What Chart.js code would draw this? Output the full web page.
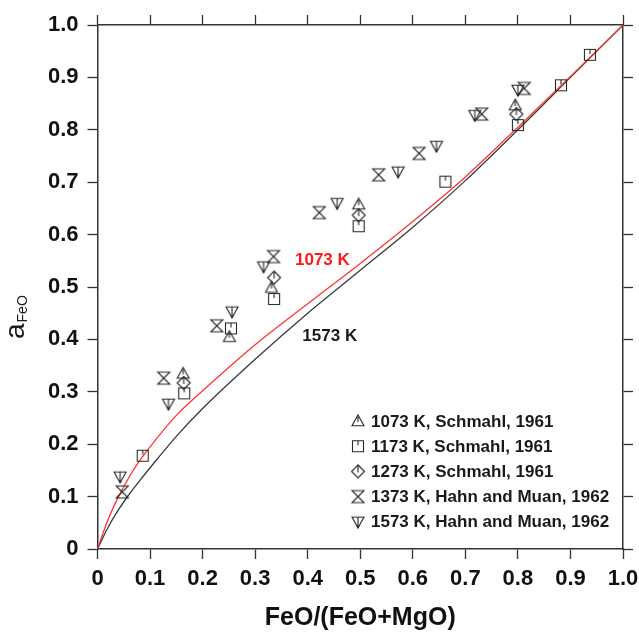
<!DOCTYPE html>
<html>
<head>
<meta charset="utf-8">
<script src="https://cdn.jsdelivr.net/npm/chart.js@4.4.0/dist/chart.umd.min.js"></script>
<style>
  html, body { margin: 0; padding: 0; background: #fff; }
</style>
</head>
<body>
<canvas id="chart" width="639" height="633"></canvas>
<script>
// axis ticks
const tickValues = [0, 0.1, 0.2, 0.3, 0.4, 0.5, 0.6, 0.7, 0.8, 0.9, 1.0];

// model curves
const curve1073X = [0, 0.02, 0.04, 0.06, 0.08, 0.1, 0.15, 0.2, 0.3, 0.4, 0.5, 0.6, 0.7, 0.8, 0.9, 1.0];
const curve1073Y = [0, 0.056, 0.1, 0.137, 0.168, 0.195, 0.255, 0.302, 0.39, 0.468, 0.545, 0.625, 0.71, 0.805, 0.902, 1.0];
const curve1573X = [0, 0.02, 0.04, 0.06, 0.08, 0.1, 0.15, 0.2, 0.3, 0.4, 0.5, 0.6, 0.7, 0.8, 0.9, 1.0];
const curve1573Y = [0, 0.041, 0.075, 0.104, 0.13, 0.155, 0.215, 0.268, 0.362, 0.45, 0.532, 0.614, 0.703, 0.8, 0.9, 1.0];

// experimental points
const schmahl1073X = [0.163, 0.251, 0.331, 0.497, 0.795];
const schmahl1073Y = [0.335, 0.405, 0.499, 0.658, 0.847];
const schmahl1173X = [0.086, 0.165, 0.254, 0.336, 0.497, 0.662, 0.800, 0.882, 0.937];
const schmahl1173Y = [0.178, 0.297, 0.421, 0.477, 0.616, 0.701, 0.809, 0.885, 0.943];
const schmahl1273X = [0.164, 0.336, 0.497, 0.797];
const schmahl1273Y = [0.317, 0.518, 0.637, 0.830];
const hahn1373X = [0.047, 0.126, 0.227, 0.335, 0.422, 0.535, 0.612, 0.731, 0.812];
const hahn1373Y = [0.109, 0.326, 0.426, 0.558, 0.642, 0.714, 0.755, 0.830, 0.879];
const hahn1573X = [0.043, 0.135, 0.256, 0.316, 0.456, 0.572, 0.645, 0.718, 0.800];
const hahn1573Y = [0.138, 0.277, 0.453, 0.539, 0.660, 0.720, 0.769, 0.828, 0.876];

const legendLabels = [
  '1073 K, Schmahl, 1961',
  '1173 K, Schmahl, 1961',
  '1273 K, Schmahl, 1961',
  '1373 K, Hahn and Muan, 1962',
  '1573 K, Hahn and Muan, 1962'
];

const pts = (xs, ys) => xs.map((x, i) => ({ x: x, y: ys[i] }));

// open marker symbols
function makeMarker(kind) {
  const c = document.createElement('canvas');
  c.width = 16; c.height = 16;
  const g = c.getContext('2d');
  g.strokeStyle = '#262626';
  g.fillStyle = '#262626';
  g.lineWidth = 1.1;
  const m = 8, r = 6;
  g.beginPath();
  if (kind === 'tri') {
    g.moveTo(m, m - r); g.lineTo(m + r, m + r * 0.8); g.lineTo(m - r, m + r * 0.8); g.closePath();
    g.moveTo(m, m - r + 2); g.lineTo(m, m + 1);
  } else if (kind === 'square') {
    g.rect(m - r + 0.5, m - r + 0.5, 2 * r - 1, 2 * r - 1);
    g.moveTo(m, m - r); g.lineTo(m, m - r + 5);
  } else if (kind === 'diamond') {
    g.moveTo(m, m - r - 0.5); g.lineTo(m + r + 0.5, m); g.lineTo(m, m + r + 0.5); g.lineTo(m - r - 0.5, m); g.closePath();
    g.moveTo(m, m - r); g.lineTo(m, m + 1);
  } else if (kind === 'hourglass') {
    g.moveTo(m - r, m - r); g.lineTo(m + r, m - r); g.lineTo(m - r, m + r); g.lineTo(m + r, m + r); g.closePath();
  } else if (kind === 'itri') {
    g.moveTo(m - r, m - r * 0.8); g.lineTo(m + r, m - r * 0.8); g.lineTo(m, m + r); g.closePath();
    g.moveTo(m, m - r * 0.8); g.lineTo(m, m + r);
  }
  g.stroke();
  if (kind === 'itri') { g.beginPath(); g.arc(m, m + r - 1, 1.2, 0, Math.PI * 2); g.fill(); }
  return c;
}
const markers = ['tri', 'square', 'diamond', 'hourglass', 'itri'].map(makeMarker);

const textPlugin = {
  id: 'textPlugin',
  afterDatasetsDraw(chart) {
    const { ctx, scales } = chart;
    ctx.save();
    // curve labels
    ctx.textAlign = 'center';
    ctx.textBaseline = 'middle';
    ctx.font = 'bold 17px "Liberation Sans", Arial, sans-serif';
    ctx.fillStyle = '#ff1a1a';
    ctx.fillText('1073 K', scales.x.getPixelForValue(0.428), scales.y.getPixelForValue(0.55));
    ctx.fillStyle = '#1a1a1a';
    ctx.fillText('1573 K', scales.x.getPixelForValue(0.442), scales.y.getPixelForValue(0.406));

    // legend
    ctx.textAlign = 'left';
    legendLabels.forEach((lab, i) => {
      const y = 421 + i * 25.2;
      ctx.drawImage(markers[i], 358 - 8, y - 8);
      ctx.fillText(lab, 371, y + 1);
    });

    // y axis title with subscript
    ctx.translate(24, 339);
    ctx.rotate(-Math.PI / 2);
    ctx.textBaseline = 'alphabetic';
    ctx.font = '28px "Liberation Sans", Arial, sans-serif';
    ctx.fillText('a', 0, 0);
    const w = ctx.measureText('a').width;
    ctx.font = '14px "Liberation Sans", Arial, sans-serif';
    ctx.fillText('FeO', w + 1, 3);
    ctx.restore();
  }
};

const axisColor = '#333';
function axisOpts(pos, showLabels, fitSize) {
  return {
    type: 'linear',
    position: pos,
    min: 0,
    max: 1,
    afterBuildTicks(s) { s.ticks = tickValues.map(v => ({ value: v })); },
    afterFit(s) {
      if (s.isHorizontal()) s.height = fitSize; else s.width = fitSize;
      s.paddingLeft = 0; s.paddingRight = 0; s.paddingTop = 0; s.paddingBottom = 0;
    },
    grid: { drawOnChartArea: false, tickLength: 10, tickColor: axisColor, tickWidth: 1.3 },
    border: { color: axisColor, width: 1.5 },
    ticks: {
      display: showLabels,
      padding: pos === 'bottom' ? 7 : 9,
      color: '#111',
      font: { family: '"Liberation Sans", Arial, sans-serif', size: 22, weight: 'bold' },
      callback: v => (v === 0 ? '0' : v.toFixed(1))
    }
  };
}

const xBottom = axisOpts('bottom', true, 84);
xBottom.title = {
  display: true,
  text: 'FeO/(FeO+MgO)',
  color: '#111',
  padding: { top: 0, bottom: 0 },
  font: { family: '"Liberation Sans", Arial, sans-serif', size: 25, weight: 'bold' }
};

const scatterDs = (label, xs, ys, i) => ({
  type: 'scatter',
  label: label,
  data: pts(xs, ys),
  pointStyle: markers[i],
  pointRadius: 8,
  pointHoverRadius: 8,
  order: 1
});

new Chart(document.getElementById('chart'), {
  data: {
    datasets: [
      scatterDs(legendLabels[0], schmahl1073X, schmahl1073Y, 0),
      scatterDs(legendLabels[1], schmahl1173X, schmahl1173Y, 1),
      scatterDs(legendLabels[2], schmahl1273X, schmahl1273Y, 2),
      scatterDs(legendLabels[3], hahn1373X, hahn1373Y, 3),
      scatterDs(legendLabels[4], hahn1573X, hahn1573Y, 4),
      {
        type: 'line', label: '1073 K', data: pts(curve1073X, curve1073Y),
        borderColor: '#ff3333', borderWidth: 1.3, pointRadius: 0,
        cubicInterpolationMode: 'monotone', order: 2
      },
      {
        type: 'line', label: '1573 K', data: pts(curve1573X, curve1573Y),
        borderColor: '#3a3a3a', borderWidth: 1.3, pointRadius: 0,
        cubicInterpolationMode: 'monotone', order: 3
      }
    ]
  },
  options: {
    responsive: false,
    animation: false,
    layout: { padding: 0 },
    plugins: { legend: { display: false }, tooltip: { enabled: false } },
    scales: {
      x: xBottom,
      xTop: axisOpts('top', false, 25),
      y: axisOpts('left', true, 97.5),
      yRight: axisOpts('right', false, 16)
    }
  },
  plugins: [textPlugin]
});
</script>
</body>
</html>
